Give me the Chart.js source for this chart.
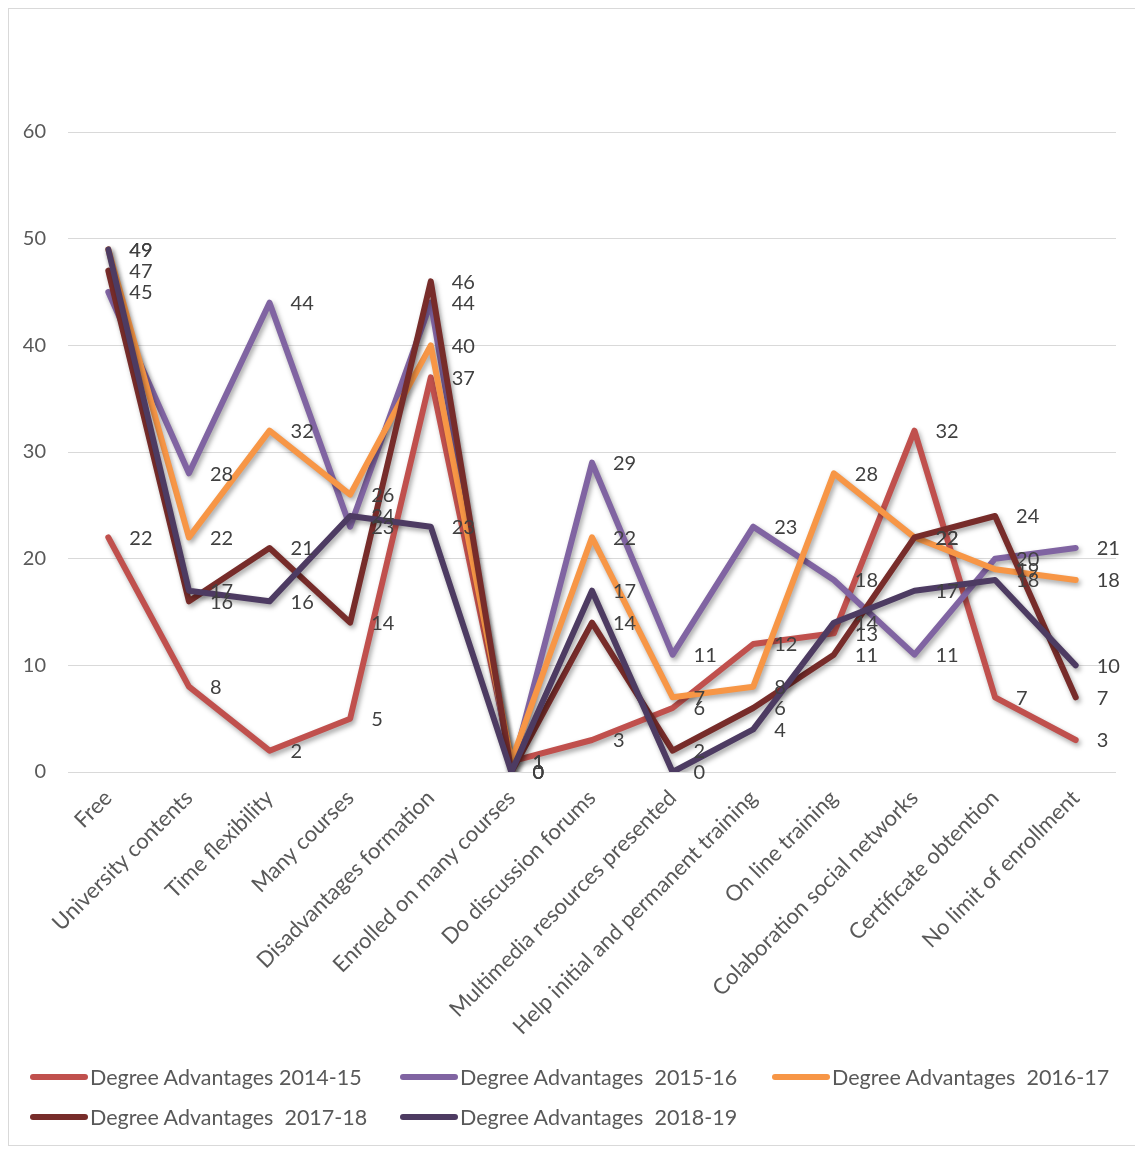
<!DOCTYPE html>
<html>
<head>
<meta charset="utf-8">
<title>Degree Advantages</title>
<script src="https://cdn.jsdelivr.net/npm/chart.js@4.4.1/dist/chart.umd.min.js"></script>
<style>
  body { margin: 0; background: #fff; font-family: Lato, "Open Sans", sans-serif; }
  #wrap { position: relative; width: 1135px; height: 1149px; }
  #frame { position: absolute; left: 8px; top: 8px; width: 1140px; height: 1136px; border: 1px solid #d9d9d9; }
  #legend { position: absolute; left: 30px; top: 1064px; width: 1110px; }
  .item { position: absolute; display: flex; align-items: center; font-size: 21.5px; color: #595959; white-space: pre; }
  .swatch { width: 58px; height: 6px; border-radius: 3px; margin-right: 2px; }
</style>
</head>
<body>
<div id="wrap">
  <div id="frame"></div>
  <canvas id="chart" width="1135" height="1149"></canvas>
  <div id="legend"></div>
</div>
<script>
const categories = [
  'Free', 'University contents', 'Time flexibility', 'Many courses',
  'Disadvantages formation', 'Enrolled on many courses', 'Do discussion forums',
  'Multimedia resources presented', 'Help initial and permanent training',
  'On line training', 'Colaboration social networks', 'Certificate obtention',
  'No limit of enrollment'
];

const seriesNames = [
  'Degree Advantages 2014-15',
  'Degree Advantages  2015-16',
  'Degree Advantages  2016-17',
  'Degree Advantages  2017-18',
  'Degree Advantages  2018-19'
];

const adv1415 = [22, 8, 2, 5, 37, 1, 3, 6, 12, 13, 32, 7, 3];
const adv1516 = [45, 28, 44, 23, 44, 0, 29, 11, 23, 18, 11, 20, 21];
const adv1617 = [49, 22, 32, 26, 40, 1, 22, 7, 8, 28, 22, 19, 18];
const adv1718 = [47, 16, 21, 14, 46, 0, 14, 2, 6, 11, 22, 24, 7];
const adv1819 = [49, 17, 16, 24, 23, 0, 17, 0, 4, 14, 17, 18, 10];

const yTicks = [0, 10, 20, 30, 40, 50, 60];

const seriesColors = ['#C0504D', '#8064A2', '#F79646', '#772C2A', '#4D3B62'];
const allSeries = [adv1415, adv1516, adv1617, adv1718, adv1819];

const fontFamily = 'Lato, "Open Sans", sans-serif';

// excel style soft shadow under each line
const shadowPlugin = {
  id: 'lineShadow',
  beforeDatasetDraw(chart) {
    const c = chart.ctx;
    c.save();
    c.shadowColor = 'rgba(0,0,0,0.35)';
    c.shadowBlur = 5;
    c.shadowOffsetX = 2;
    c.shadowOffsetY = 3;
  },
  afterDatasetDraw(chart) {
    chart.ctx.restore();
  }
};

// value labels to the right of every point
const labelPlugin = {
  id: 'valueLabels',
  afterDatasetsDraw(chart) {
    const ctx = chart.ctx;
    ctx.save();
    ctx.font = '20px ' + fontFamily;
    ctx.fillStyle = '#404040';
    ctx.textAlign = 'left';
    ctx.textBaseline = 'middle';
    chart.data.datasets.forEach((ds, i) => {
      const meta = chart.getDatasetMeta(i);
      meta.data.forEach((pt, j) => {
        ctx.fillText(String(ds.data[j]), pt.x + 21, pt.y + 1);
      });
    });
    ctx.restore();
  }
};

const datasets = allSeries.map((values, i) => ({
  label: seriesNames[i],
  data: values,
  borderColor: seriesColors[i],
  backgroundColor: seriesColors[i],
  borderWidth: 6,
  borderCapStyle: 'round',
  borderJoinStyle: 'round',
  pointRadius: 0,
  tension: 0,
  order: allSeries.length - 1 - i
}));

new Chart(document.getElementById('chart'), {
  type: 'line',
  data: { labels: categories, datasets: datasets },
  options: {
    responsive: false,
    animation: false,
    layout: { padding: { left: 10, right: 19, top: 132, bottom: 87 } },
    plugins: {
      legend: { display: false },
      tooltip: { enabled: false }
    },
    scales: {
      x: {
        offset: true,
        grid: { display: false },
        border: { display: false },
        ticks: {
          autoSkip: false,
          minRotation: 45,
          maxRotation: 45,
          color: '#595959',
          font: { family: fontFamily, size: 22 },
          padding: 5
        },
        afterFit(scale) { scale.height = 290; }
      },
      y: {
        min: 0,
        max: 60,
        afterBuildTicks(scale) { scale.ticks = yTicks.map(v => ({ value: v })); },
        grid: { color: '#d9d9d9', lineWidth: 1, drawTicks: false },
        border: { display: false },
        ticks: {
          color: '#595959',
          font: { family: fontFamily, size: 20 },
          padding: 22
        },
        afterFit(scale) { scale.width = 58; }
      }
    }
  },
  plugins: [shadowPlugin, labelPlugin]
});

// legend laid out in columns like the original
const legend = document.getElementById('legend');
const colX = [0, 370, 742];
seriesNames.forEach((name, i) => {
  const item = document.createElement('div');
  item.className = 'item';
  item.style.left = colX[i % 3] + 'px';
  item.style.top = (Math.floor(i / 3) * 40) + 'px';
  const sw = document.createElement('span');
  sw.className = 'swatch';
  sw.style.background = seriesColors[i];
  const txt = document.createElement('span');
  txt.textContent = name;
  item.appendChild(sw);
  item.appendChild(txt);
  legend.appendChild(item);
});
</script>
</body>
</html>
